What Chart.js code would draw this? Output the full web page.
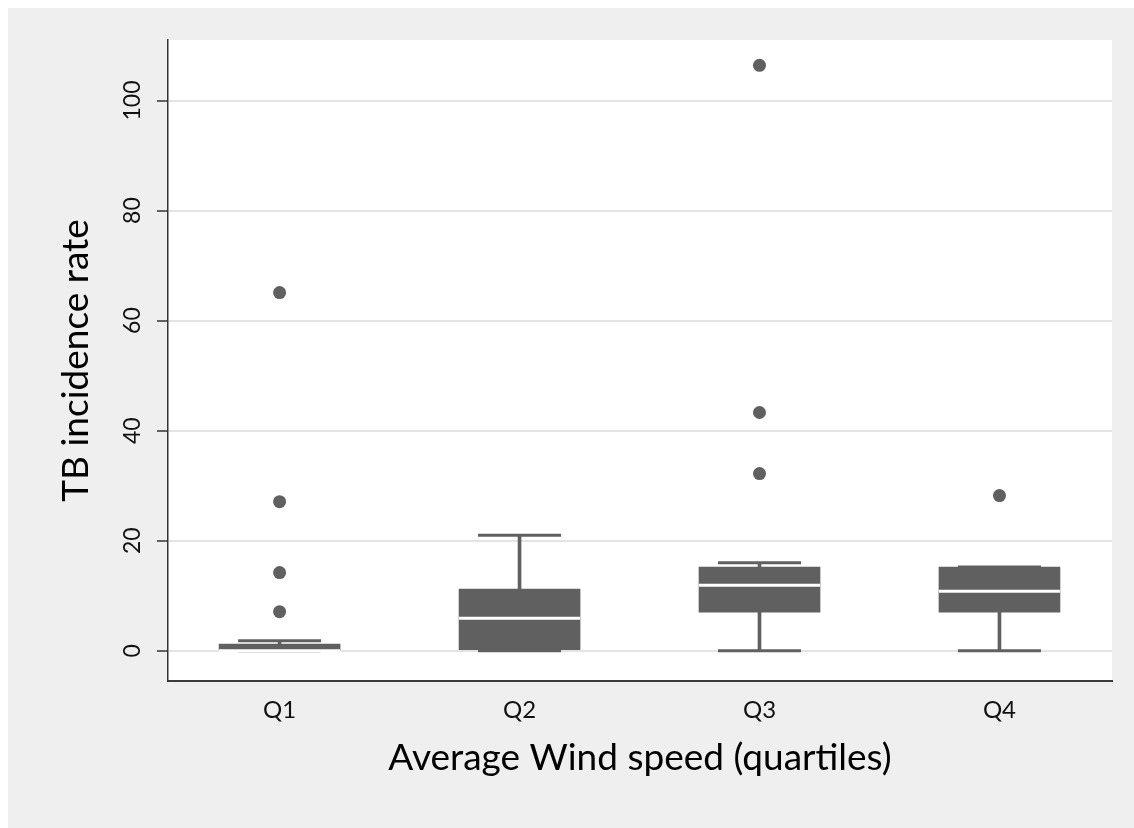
<!DOCTYPE html>
<html>
<head>
<meta charset="utf-8">
<script src="https://cdn.jsdelivr.net/npm/chart.js@4.4.0/dist/chart.umd.min.js"></script>
<style>
  body { margin: 0; background: #fff; }
  #wrap { position: absolute; left: 8px; top: 8px; width: 1126px; height: 820px; background: #efefef; }
</style>
</head>
<body>
<div id="wrap"><canvas id="myChart" width="1126" height="820"></canvas></div>
<script>
// box plot values
const categories = ['Q1', 'Q2', 'Q3', 'Q4'];
const lowerWhisker = [0, 0, 0, 0];
const boxLow = [0, 0, 7.0, 7.0];
const medians = [0, 5.9, 11.9, 10.8];
const boxHigh = [1.2, 11.2, 15.2, 15.2];
const upperWhisker = [1.8, 21.0, 16.0, 15.2];
const outliers = [[65.1, 27.1, 14.2, 7.1], [], [106.4, 43.3, 32.2], [28.2]];
const yTitle = 'TB incidence rate';
const xTitle = 'Average Wind speed (quartiles)';

const boxColor = '#606060';
const pos = i => i + 1;

const plotBackground = {
  id: 'plotBackground',
  beforeDraw(chart) {
    const {ctx, chartArea: a} = chart;
    ctx.save();
    ctx.fillStyle = '#fff';
    ctx.fillRect(a.left, a.top, a.right - a.left, a.bottom - a.top);
    ctx.restore();
  }
};

// fixed axis sizes, no extra label padding
function noPad(axis) {
  axis.paddingTop = 0;
  axis.paddingBottom = 0;
  axis.paddingLeft = 0;
  axis.paddingRight = 0;
}

const data = {
  datasets: [
    {
      type: 'bar', label: 'lower whisker',
      data: categories.map((c, i) => ({x: pos(i), y: [lowerWhisker[i], boxLow[i]]})),
      backgroundColor: boxColor, barThickness: 3, grouped: false, order: 3
    },
    {
      type: 'bar', label: 'upper whisker',
      data: categories.map((c, i) => ({x: pos(i), y: [boxHigh[i], upperWhisker[i]]})),
      backgroundColor: boxColor, barThickness: 3, grouped: false, order: 3
    },
    {
      type: 'line', label: 'caps',
      data: categories.map((c, i) => ({x: pos(i), y: lowerWhisker[i]}))
        .concat(categories.map((c, i) => ({x: pos(i), y: upperWhisker[i]}))),
      showLine: false, pointStyle: 'line', pointRadius: 41.5,
      pointBorderWidth: 3, pointBorderColor: boxColor, order: 3
    },
    {
      type: 'bar', label: 'box',
      data: categories.map((c, i) => ({x: pos(i), y: [boxLow[i], boxHigh[i]]})),
      backgroundColor: boxColor, barThickness: 121, grouped: false, order: 2
    },
    {
      type: 'line', label: 'median',
      data: categories.map((c, i) => ({x: pos(i), y: medians[i]})),
      showLine: false, pointStyle: 'line', pointRadius: 60.5,
      pointBorderWidth: 3, pointBorderColor: '#fff', order: 1
    },
    {
      type: 'line', label: 'outliers',
      data: outliers.flatMap((vals, i) => vals.map(v => ({x: pos(i), y: v}))),
      showLine: false, pointStyle: 'circle', pointRadius: 6.5,
      pointBackgroundColor: boxColor, pointBorderWidth: 0, order: 1
    }
  ]
};

const config = {
  type: 'bar',
  data: data,
  plugins: [plotBackground],
  options: {
    responsive: false,
    animation: false,
    devicePixelRatio: 1,
    layout: { autoPadding: false, padding: { top: 32, right: 22, left: 0, bottom: 0 } },
    plugins: { legend: { display: false }, tooltip: { enabled: false } },
    scales: {
      x: {
        type: 'linear', min: 0.535, max: 4.469, offset: false,
        afterBuildTicks: axis => { axis.ticks = categories.map((c, i) => ({value: pos(i)})); },
        afterFit: axis => { axis.height = 147; noPad(axis); },
        grid: { display: false, drawTicks: false, offset: false },
        border: { display: true, color: '#3a3a3a', width: 2 },
        ticks: {
          callback: v => categories[v - 1],
          font: { family: 'Lato', size: 24 }, color: '#111',
          padding: 15, maxRotation: 0, autoSkip: false
        },
        title: {
          display: true, text: xTitle,
          font: { family: 'Lato', size: 37 }, color: '#000',
          padding: { top: 0, bottom: 48 }
        }
      },
      y: {
        min: -5.5, max: 111,
        afterFit: axis => { axis.width = 160; noPad(axis); },
        grid: { color: '#e4e4e4', lineWidth: 2, tickColor: '#333', tickLength: 11, tickWidth: 1.5 },
        border: { display: true, color: '#333', width: 1.5 },
        ticks: {
          stepSize: 20, includeBounds: false,
          minRotation: 90, maxRotation: 90, crossAlign: 'center', padding: 4,
          font: { family: 'Lato', size: 23 }, color: '#111'
        },
        title: {
          display: true, text: yTitle,
          font: { family: 'Lato', size: 37 }, color: '#000',
          padding: { top: 46, bottom: 0 }
        }
      }
    }
  }
};

const myChart = new Chart(document.getElementById('myChart'), config);
</script>
</body>
</html>
